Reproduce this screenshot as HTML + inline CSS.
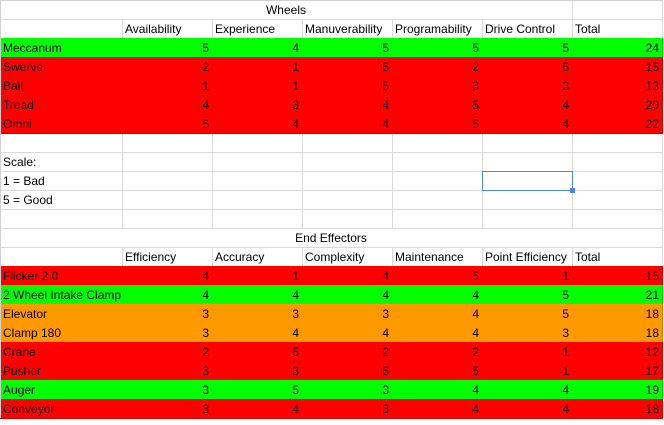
<!DOCTYPE html>
<html><head><meta charset="utf-8"><style>
body{margin:0;width:664px;height:425px;background:#fff;overflow:hidden;font-family:"Liberation Sans",Arial,sans-serif;font-size:12px;color:#000}
#sheet{position:relative;width:664px;height:425px}
.c{position:absolute;box-sizing:border-box;height:20px;line-height:19px;padding:1px 3px 0 3px;white-space:nowrap;overflow:hidden;border-right:1px solid #d9d9d9;border-bottom:1px solid #d9d9d9}
.n{text-align:right}
.m{text-align:center}
</style></head><body>
<div id="sheet"></div>
<script>
const colX=[0,122,212,302,392,482,572,662];
const rowH=19;
const wheelHeaders=["Availability","Experience","Manuverability","Programability","Drive Control","Total"];
const wheelNames=["Meccanum","Swerve","Ball","Tread","Omni"];
const wheelScores=[[5,4,5,5,5,24],[2,1,5,2,5,15],[1,1,5,3,3,13],[4,3,4,5,4,20],[5,4,4,5,4,22]];
const wheelColors=["g","r","r","r","r"];
const effHeaders=["Efficiency","Accuracy","Complexity","Maintenance","Point Efficiency","Total"];
const effNames=["Flicker 2.0","2 Wheel Intake Clamp","Elevator","Clamp 180","Crane","Pusher","Auger","Conveyor"];
const effScores=[[4,1,4,5,1,15],[4,4,4,4,5,21],[3,3,3,4,5,18],[3,4,4,4,3,18],[2,5,2,2,1,12],[3,3,5,5,1,17],[3,5,3,4,4,19],[3,4,3,4,4,18]];
const effColors=["r","g","o","o","r","r","g","r"];
const fills={g:"#00ff00",r:"#ff0000",o:"#ff9900"};
const borders={g:"#00cc00",r:"#cc0000",o:"#cc7a00"};
const sheet=document.getElementById('sheet');
function cell(r,c0,c1,text,cls,color,name){
  const d=document.createElement('div');
  d.className='c '+(cls||'');
  d.style.left=colX[c0]+'px';d.style.top=(r*rowH)+'px';
  d.style.width=(colX[c1]-colX[c0]+1)+'px';
  if(color){d.style.background=fills[color];d.style.borderColor=borders[color];}
  d.textContent=text;
  
  
  sheet.appendChild(d);
}
for(let r=0;r<22;r++){for(let c=0;c<7;c++){
  if(r===0||r===12)continue;
  cell(r,c,c+1,'','',null,'empty-cell');
}}
cell(0,0,6,'Wheels','m',null,'wheels-title');
cell(0,6,7,'','',null,'empty-cell');
wheelHeaders.forEach((h,i)=>cell(1,i+1,i+2,h,'',null,'wheels-header'));
wheelNames.forEach((n,i)=>{
  cell(2+i,0,1,n,'',wheelColors[i],'wheel-name');
  wheelScores[i].forEach((v,j)=>cell(2+i,j+1,j+2,String(v),'n',wheelColors[i],'wheel-score'));
});
cell(8,0,1,'Scale:','',null,'scale-label');
cell(9,0,1,'1 = Bad','',null,'scale-bad');
cell(10,0,1,'5 = Good','',null,'scale-good');
cell(12,0,7,'End Effectors','m',null,'end-effectors-title');
effHeaders.forEach((h,i)=>cell(13,i+1,i+2,h,'',null,'effectors-header'));
effNames.forEach((n,i)=>{
  cell(14+i,0,1,n,'',effColors[i],'effector-name');
  effScores[i].forEach((v,j)=>cell(14+i,j+1,j+2,String(v),'n',effColors[i],'effector-score'));
});
const e=document.createElement('div');
e.style.cssText='position:absolute;left:0;top:0;width:663px;height:418px;box-sizing:border-box;border-top:1px solid #d0d0d0;border-left:1px solid #d0d0d0;pointer-events:none';


sheet.appendChild(e);
const s=document.createElement('div');
s.style.cssText='position:absolute;left:482px;top:171px;width:91px;height:20px;box-sizing:border-box;border:1px solid #4a86e8';


sheet.appendChild(s);
const h=document.createElement('div');
h.style.cssText='position:absolute;left:570px;top:188px;width:5px;height:5px;background:#4a86e8';


sheet.appendChild(h);
</script>
</body></html>
